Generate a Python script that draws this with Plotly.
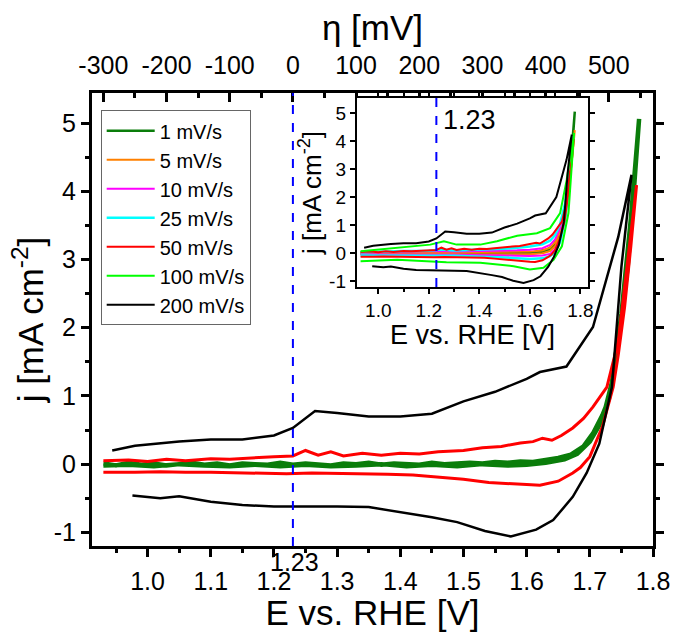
import plotly.graph_objects as go

# ---------------- data ----------------
labels = ["1 mV/s", "5 mV/s", "10 mV/s", "25 mV/s", "50 mV/s", "100 mV/s", "200 mV/s"]
colors = ["#0a7d0a", "#ff8000", "#ff00ff", "#00ffff", "#ff0000", "#00ff00", "#000000"]

# 1 mV/s (forward + reverse)
E_1 = [0.93, 0.95, 0.97, 0.99, 1.01, 1.03, 1.05, 1.07, 1.09, 1.11, 1.13, 1.15, 1.17, 1.19, 1.21, 1.23,
       1.25, 1.27, 1.29, 1.31, 1.33, 1.35, 1.37, 1.39, 1.41, 1.43, 1.45, 1.47, 1.49, 1.51, 1.53, 1.55,
       1.57, 1.59, 1.61, 1.63, 1.65, 1.67, 1.69, 1.705, 1.72, 1.73, 1.74, 1.75, 1.76, 1.77, 1.778,
       1.765, 1.75, 1.735, 1.72, 1.70, 1.68, 1.66, 1.63, 1.60, 1.57, 1.53, 1.49, 1.45, 1.41, 1.37,
       1.33, 1.29, 1.25, 1.21, 1.17, 1.13, 1.09, 1.05, 1.01, 0.97, 0.93]
j_1 = [0.01, -0.02, 0.02, -0.01, 0.01, -0.02, 0.00, 0.02, -0.01, 0.01, -0.02, 0.01, 0.00, -0.01, 0.02, -0.01,
       0.01, 0.00, -0.02, 0.01, 0.00, 0.02, -0.01, 0.01, 0.00, -0.01, 0.02, 0.00, 0.01, 0.02, 0.01, 0.03,
       0.02, 0.04, 0.03, 0.06, 0.09, 0.14, 0.26, 0.45, 0.72, 0.95, 1.45, 2.15, 2.90, 4.05, 5.06,
       3.60, 2.20, 1.20, 0.65, 0.33, 0.15, 0.07, 0.02, -0.01, -0.02, 0.00, -0.03, -0.01, -0.03, 0.00,
       -0.02, -0.03, -0.01, -0.03, -0.01, -0.03, -0.02, 0.00, -0.03, -0.01, -0.02]

# 5 mV/s
E_5 = [0.93, 1.10, 1.30, 1.50, 1.60, 1.65, 1.68, 1.70, 1.72, 1.74, 1.755, 1.77, 1.778,
       1.76, 1.74, 1.72, 1.70, 1.68, 1.65, 1.60, 1.50, 1.30, 1.10, 0.93]
j_5 = [0.01, 0.02, 0.02, 0.04, 0.06, 0.10, 0.20, 0.40, 0.80, 1.60, 2.50, 3.60, 4.40,
       2.80, 1.40, 0.60, 0.25, 0.08, 0.00, -0.03, -0.03, -0.02, -0.02, -0.01]

# 10 mV/s
E_10 = [0.93, 1.00, 1.10, 1.20, 1.25, 1.30, 1.40, 1.50, 1.55, 1.60, 1.65, 1.68, 1.70, 1.72, 1.74, 1.76, 1.772,
        1.755, 1.74, 1.72, 1.70, 1.68, 1.65, 1.60, 1.50, 1.40, 1.30, 1.20, 1.10, 1.00, 0.93]
j_10 = [0.03, 0.04, 0.05, 0.06, 0.08, 0.06, 0.07, 0.09, 0.11, 0.13, 0.18, 0.30, 0.50, 0.90, 1.70, 3.00, 4.10,
        2.40, 1.30, 0.50, 0.15, -0.02, -0.08, -0.10, -0.08, -0.06, -0.05, -0.05, -0.04, -0.04, -0.05]

# 25 mV/s
E_25 = [0.93, 1.00, 1.10, 1.20, 1.25, 1.30, 1.40, 1.50, 1.55, 1.60, 1.65, 1.68, 1.70, 1.72, 1.74, 1.76, 1.772,
        1.755, 1.74, 1.72, 1.70, 1.68, 1.65, 1.60, 1.50, 1.40, 1.30, 1.20, 1.10, 1.00, 0.93]
j_25 = [0.04, 0.06, 0.08, 0.09, 0.14, 0.10, 0.12, 0.16, 0.20, 0.24, 0.32, 0.45, 0.65, 1.05, 1.80, 3.10, 4.20,
        2.40, 1.20, 0.40, 0.05, -0.10, -0.18, -0.20, -0.15, -0.11, -0.09, -0.09, -0.08, -0.07, -0.08]

# 50 mV/s
E_50 = [0.93, 0.97, 1.00, 1.03, 1.06, 1.10, 1.13, 1.16, 1.20, 1.23, 1.25, 1.27, 1.29, 1.31, 1.34, 1.37,
        1.40, 1.43, 1.46, 1.50, 1.53, 1.56, 1.59, 1.61, 1.625, 1.64, 1.655, 1.673, 1.69, 1.705, 1.727,
        1.745, 1.76, 1.774,
        1.765, 1.755, 1.745, 1.737, 1.72, 1.70, 1.685, 1.673, 1.65, 1.621, 1.60, 1.57, 1.54, 1.50, 1.46,
        1.42, 1.38, 1.34, 1.30, 1.26, 1.22, 1.18, 1.14, 1.10, 1.06, 1.02, 0.98, 0.93]
j_50 = [0.05, 0.06, 0.04, 0.07, 0.05, 0.08, 0.07, 0.09, 0.11, 0.12, 0.20, 0.13, 0.18, 0.12, 0.16, 0.13,
        0.16, 0.15, 0.18, 0.20, 0.24, 0.26, 0.31, 0.33, 0.38, 0.35, 0.42, 0.53, 0.67, 0.84, 1.13,
        1.80, 2.95, 4.09,
        3.20, 2.30, 1.60, 1.13, 0.55, 0.11, -0.05, -0.13, -0.25, -0.31, -0.30, -0.28, -0.27, -0.22, -0.19,
        -0.16, -0.15, -0.14, -0.14, -0.13, -0.14, -0.13, -0.13, -0.12, -0.12, -0.11, -0.12, -0.12]

# 100 mV/s
E_100 = [0.93, 1.075, 1.206, 1.26, 1.31, 1.404, 1.47, 1.55, 1.628, 1.68, 1.72, 1.746, 1.775,
         1.753, 1.727, 1.694, 1.654, 1.60, 1.536, 1.404, 1.27, 1.075, 0.93]
j_100 = [0.07, 0.19, 0.31, 0.43, 0.31, 0.31, 0.43, 0.63, 0.72, 0.90, 1.44, 2.62, 4.30,
         1.44, 0.25, -0.23, -0.52, -0.58, -0.46, -0.34, -0.32, -0.23, -0.28]

# 200 mV/s
E_200 = [0.944, 0.98, 1.05, 1.10, 1.15, 1.20, 1.23, 1.265, 1.30, 1.35, 1.40, 1.45, 1.50, 1.55, 1.60,
         1.621, 1.663, 1.705, 1.745, 1.766,
         1.750, 1.735, 1.715, 1.695, 1.673, 1.642, 1.615, 1.575, 1.534, 1.49, 1.45, 1.40, 1.35, 1.30,
         1.25, 1.20, 1.15, 1.10, 1.05, 1.02, 0.976]
j_200 = [0.20, 0.27, 0.33, 0.36, 0.36, 0.42, 0.53, 0.78, 0.75, 0.70, 0.70, 0.74, 0.92, 1.06, 1.25,
         1.35, 1.43, 2.01, 3.33, 4.24,
         2.89, 1.13, 0.30, -0.13, -0.48, -0.82, -0.96, -1.06, -0.98, -0.85, -0.78, -0.70, -0.63, -0.62,
         -0.62, -0.62, -0.60, -0.55, -0.47, -0.50, -0.46]

E_all = [E_1, E_5, E_10, E_25, E_50, E_100, E_200]
j_all = [j_1, j_5, j_10, j_25, j_50, j_100, j_200]
main_series = [0, 4, 6]           # series drawn in the main panel
main_widths = {0: 4.5, 4: 3, 6: 2.5}
inset_widths = [2.5, 2, 2, 2.5, 2, 2, 2]

E_ref = 1.23                       # reversible OER potential [V]
x_range = [0.912, 1.80]
y_range = [-1.2, 5.44]
x_ticks = [1.0, 1.1, 1.2, 1.3, 1.4, 1.5, 1.6, 1.7, 1.8]
y_ticks = [-1, 0, 1, 2, 3, 4, 5]
eta_ticks = [-300, -200, -100, 0, 100, 200, 300, 400, 500]
ix_range = [0.915, 1.83]
iy_range = [-1.2, 5.55]
ix_ticks = [1.0, 1.2, 1.4, 1.6, 1.8]
iy_ticks = [-1, 0, 1, 2, 3, 4, 5]

FONT = "Liberation Sans, Arial, sans-serif"

def lbl(v, fmt):
    return format(v, fmt).replace("\u2212", "-")

fig = go.Figure()

# main panel traces
for i in main_series:
    fig.add_trace(go.Scatter(x=E_all[i], y=j_all[i], mode="lines", xaxis="x", yaxis="y",
                             line=dict(color=colors[i], width=main_widths[i]),
                             showlegend=False, hoverinfo="skip"))
# inset traces (provide legend)
for i in range(len(labels)):
    fig.add_trace(go.Scatter(x=E_all[i], y=j_all[i], mode="lines", xaxis="x3", yaxis="y3",
                             name=labels[i], line=dict(color=colors[i], width=inset_widths[i])))
# dummy trace to activate top axis
eta_range = [(x_range[0] - E_ref) * 1000, (x_range[1] - E_ref) * 1000]
fig.add_trace(go.Scatter(x=eta_range, y=[None, None], xaxis="x2", yaxis="y",
                         mode="lines", showlegend=False, hoverinfo="skip"))

axis_common = dict(showline=True, linecolor="black", linewidth=3, showgrid=False, zeroline=False,
                   tickcolor="black", tickwidth=2.5, automargin=False,
                   tickfont=dict(family=FONT, size=25, color="black"))

fig.update_layout(
    width=678, height=632,
    margin=dict(l=92, r=25, t=93, b=86),
    paper_bgcolor="white", plot_bgcolor="white",
    font=dict(family=FONT, color="black"),
    xaxis=dict(**axis_common, range=x_range, ticks="outside", ticklen=8, tickangle=0,
               tickvals=x_ticks, ticktext=[lbl(v, ".1f") for v in x_ticks],
               ticklabelstandoff=3,
               minor=dict(dtick=0.05, tick0=0.9, ticklen=4, ticks="outside", tickwidth=2.5, tickcolor="black"),
               title=dict(text="E vs. RHE [V]", font=dict(family=FONT, size=35), standoff=0),
               anchor="y", mirror=False),
    xaxis2=dict(**axis_common, range=eta_range, overlaying="x", side="top", anchor="y",
                ticks="inside", ticklen=9, tickangle=0,
                tickvals=eta_ticks, ticktext=[lbl(v, "d") for v in eta_ticks],
                ticklabelstandoff=6,
                minor=dict(dtick=50, tick0=0, ticklen=5, ticks="inside", tickwidth=2.5, tickcolor="black"),
                title=dict(text="\u03b7 [mV]", font=dict(family=FONT, size=35), standoff=0)),
    yaxis=dict(**axis_common, range=y_range, ticks="outside", ticklen=8, mirror="ticks",
               tickvals=y_ticks, ticktext=[lbl(v, "d") for v in y_ticks],
               minor=dict(dtick=0.5, tick0=0, ticklen=4, ticks="outside", tickwidth=2.5, tickcolor="black"),
               title=dict(text="j [mA cm<sup>-2</sup>]", font=dict(family=FONT, size=35), standoff=0),
               anchor="x"),
    xaxis3=dict(showline=True, linecolor="black", linewidth=2, showgrid=False, zeroline=False,
                domain=[0.472, 0.884], anchor="y3", range=ix_range, mirror="ticks",
                ticks="outside", ticklen=5, tickwidth=2, tickcolor="black", tickangle=0,
                tickvals=ix_ticks, ticktext=[lbl(v, ".1f") for v in ix_ticks],
                ticklabelstandoff=0,
                minor=dict(dtick=0.1, tick0=0.9, ticklen=3, ticks="outside", tickwidth=2, tickcolor="black"),
                tickfont=dict(family=FONT, size=19, color="black"), automargin=False),
    yaxis3=dict(showline=True, linecolor="black", linewidth=2, showgrid=False, zeroline=False,
                domain=[0.572, 0.989], anchor="x3", range=iy_range, mirror="ticks",
                ticks="outside", ticklen=5, tickwidth=2, tickcolor="black",
                tickvals=iy_ticks, ticktext=[lbl(v, "d") for v in iy_ticks],
                tickfont=dict(family=FONT, size=19, color="black"), automargin=False,
                title=dict(text="j [mA cm<sup>-2</sup>]", font=dict(family=FONT, size=26), standoff=0)),
    legend=dict(x=0.0155, y=0.962, xanchor="left", yanchor="top",
                bgcolor="white", bordercolor="#666666", borderwidth=1, itemwidth=48,
                font=dict(family=FONT, size=20, color="black"), tracegroupgap=0),
    shapes=[
        dict(type="line", xref="x", yref="y domain", x0=E_ref, x1=E_ref, y0=0, y1=1,
             line=dict(color="#0000ff", width=2, dash="dash")),
        dict(type="line", xref="x3", yref="y3 domain", x0=E_ref, x1=E_ref, y0=0, y1=1,
             line=dict(color="#0000ff", width=2, dash="dash")),
    ],
    annotations=[
        dict(text=lbl(E_ref, ".2f"), x=E_ref + 0.003, xref="x", y=-0.035, yref="paper",
             xanchor="center", yanchor="middle", showarrow=False,
             font=dict(family=FONT, size=25, color="black")),
        dict(text=lbl(E_ref, ".2f"), x=E_ref + 0.02, xref="x3", y=0.885, yref="y3 domain",
             xanchor="left", yanchor="middle", showarrow=False,
             font=dict(family=FONT, size=27, color="black")),
        dict(text="E vs. RHE [V]", x=0.678, xref="paper", y=0.466, yref="paper",
             xanchor="center", yanchor="middle", showarrow=False,
             font=dict(family=FONT, size=27, color="black")),
    ],
)

fig.write_html("out.html")
